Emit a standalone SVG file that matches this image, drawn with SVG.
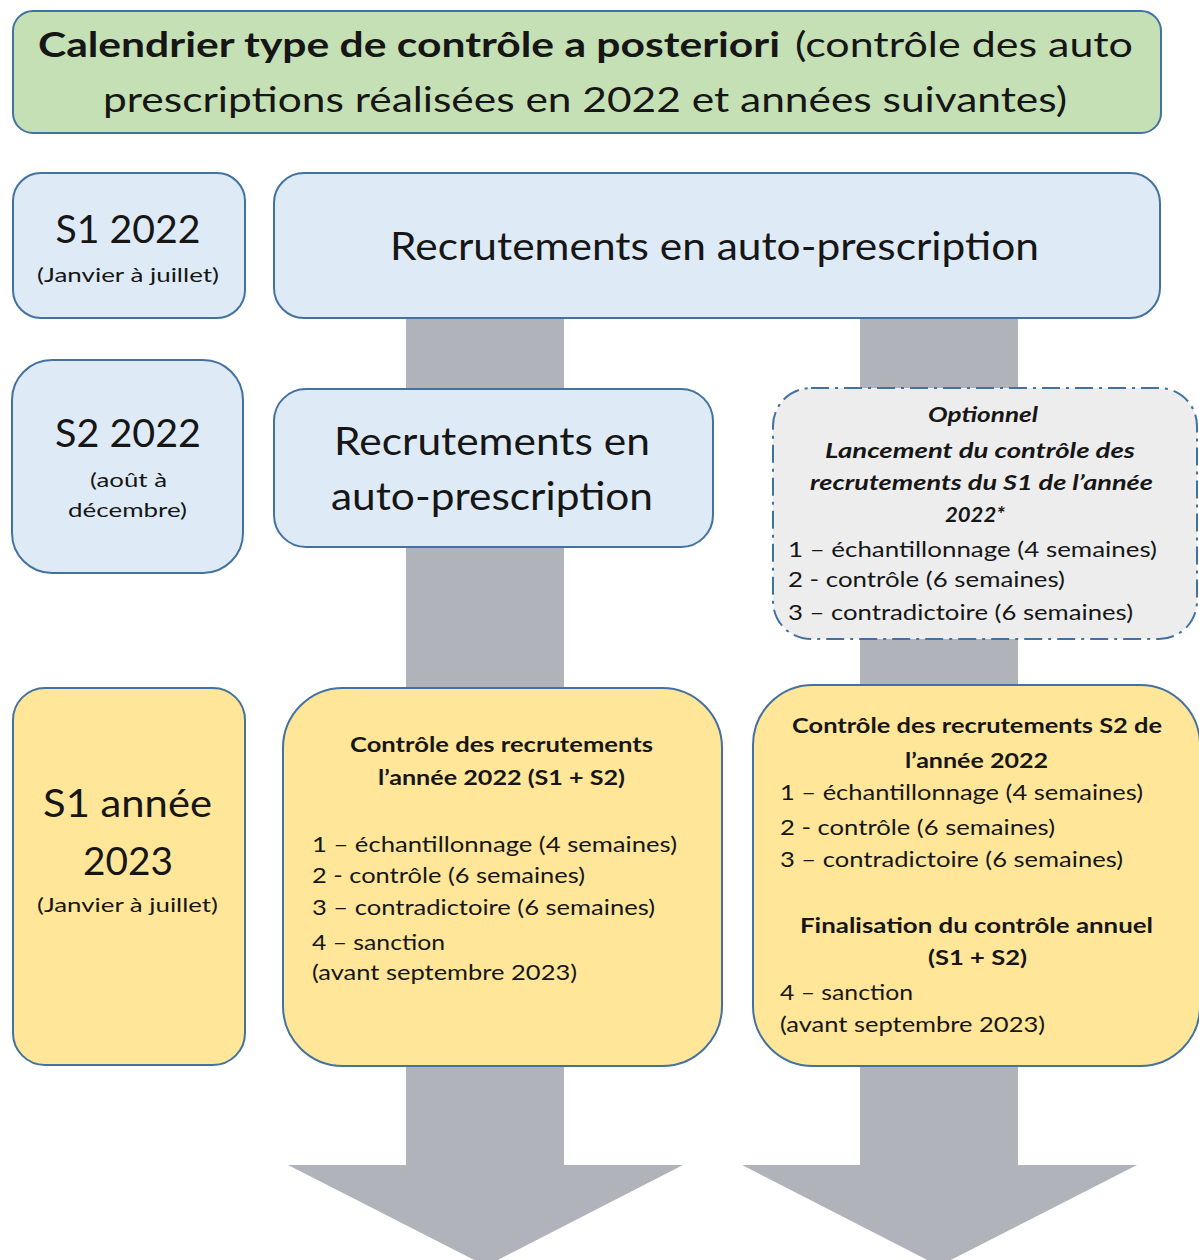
<svg xmlns="http://www.w3.org/2000/svg" width="1199" height="1260" viewBox="0 0 1199 1260">
<style>
  .box{stroke:#4472A0;stroke-width:2}
  .green{fill:#C5E0B4}
  .blue{fill:#DEEBF7}
  .yellow{fill:#FFE699}
  .gray{fill:#EDEDED;stroke:#4472A0;stroke-width:2;stroke-dasharray:18 6 3 6}
  .arrow{fill:#B0B4BA}
  text{font-family:Lato,"Open Sans","Liberation Sans",sans-serif;fill:#161616}
  .c{text-anchor:middle}
  .big{font-size:38px}
  .ttl{font-size:35px}
  .sm{font-size:20px}
  .li{font-size:21px}
  .b{font-weight:bold}
  .bi{font-weight:bold;font-style:italic}
</style>
<rect width="1199" height="1260" fill="#FFFFFF"/>
<g id="connectors">
  <polygon class="arrow" points="406,300 564,300 564,1165 683,1165 486,1266 288,1165 406,1165"/>
  <polygon class="arrow" points="860,300 1018,300 1018,1165 1137,1165 939,1266 742,1165 860,1165"/>
</g>
<g id="title">
  <rect class="box green" x="13" y="11" width="1148" height="122" rx="20"/>
  <text class="ttl" y="57"><tspan class="b" x="38" textLength="742" lengthAdjust="spacingAndGlyphs">Calendrier type de contrôle a posteriori</tspan><tspan x="795" textLength="338" lengthAdjust="spacingAndGlyphs">(contrôle des auto</tspan></text>
  <text class="ttl c" x="585" y="112" textLength="964" lengthAdjust="spacingAndGlyphs">prescriptions réalisées en 2022 et années suivantes)</text>
</g>
<g id="s1-2022">
  <rect class="box blue" x="13" y="173" width="232" height="145" rx="28"/>
  <text class="big c" x="128" y="243" textLength="145" lengthAdjust="spacingAndGlyphs">S1 2022</text>
  <text class="sm c" x="128" y="282" textLength="182" lengthAdjust="spacingAndGlyphs">(Janvier à juillet)</text>
</g>
<g id="recrutements-s1">
  <rect class="box blue" x="274" y="173" width="886" height="145" rx="30"/>
  <text class="big c" x="714.5" y="260" textLength="649" lengthAdjust="spacingAndGlyphs">Recrutements en auto-prescription</text>
</g>
<g id="s2-2022">
  <rect class="box blue" x="12" y="360" width="231" height="213" rx="40"/>
  <text class="big c" x="128" y="447" textLength="146" lengthAdjust="spacingAndGlyphs">S2 2022</text>
  <text class="sm c" x="128.5" y="487" textLength="77" lengthAdjust="spacingAndGlyphs">(août à</text>
  <text class="sm c" x="127.5" y="517" textLength="119" lengthAdjust="spacingAndGlyphs">décembre)</text>
</g>
<g id="recrutements-s2">
  <rect class="box blue" x="274" y="389" width="439" height="158" rx="32"/>
  <text class="big c" x="492" y="455" textLength="316" lengthAdjust="spacingAndGlyphs">Recrutements en</text>
  <text class="big c" x="492" y="510" textLength="322" lengthAdjust="spacingAndGlyphs">auto-prescription</text>
</g>
<g id="optionnel">
  <rect class="gray" x="773" y="388" width="424" height="251" rx="38"/>
  <text class="li bi c" x="983" y="422" textLength="110" lengthAdjust="spacingAndGlyphs">Optionnel</text>
  <text class="li bi c" x="980" y="458" textLength="310" lengthAdjust="spacingAndGlyphs">Lancement du contrôle des</text>
  <text class="li bi c" x="981.5" y="490" textLength="343" lengthAdjust="spacingAndGlyphs">recrutements du S1 de l’année</text>
  <text class="li bi c" x="975" y="522" textLength="60" lengthAdjust="spacingAndGlyphs">2022*</text>
  <text class="li" x="788" y="557" textLength="369" lengthAdjust="spacingAndGlyphs">1 – échantillonnage (4 semaines)</text>
  <text class="li" x="788" y="587" textLength="277" lengthAdjust="spacingAndGlyphs">2 - contrôle (6 semaines)</text>
  <text class="li" x="788" y="620" textLength="345" lengthAdjust="spacingAndGlyphs">3 – contradictoire (6 semaines)</text>
</g>
<g id="s1-2023">
  <rect class="box yellow" x="13" y="688" width="232" height="377" rx="32"/>
  <text class="big c" x="127.5" y="817" textLength="169" lengthAdjust="spacingAndGlyphs">S1 année</text>
  <text class="big c" x="128" y="875" textLength="90" lengthAdjust="spacingAndGlyphs">2023</text>
  <text class="sm c" x="127.5" y="912" textLength="181" lengthAdjust="spacingAndGlyphs">(Janvier à juillet)</text>
</g>
<g id="controle-annuel">
  <rect class="box yellow" x="283" y="688" width="439" height="378" rx="60"/>
  <text class="li b c" x="501.5" y="752" textLength="303" lengthAdjust="spacingAndGlyphs">Contrôle des recrutements</text>
  <text class="li b c" x="501.5" y="785" textLength="247" lengthAdjust="spacingAndGlyphs">l’année 2022 (S1 + S2)</text>
  <text class="li" x="312" y="852" textLength="365" lengthAdjust="spacingAndGlyphs">1 – échantillonnage (4 semaines)</text>
  <text class="li" x="312" y="883" textLength="273" lengthAdjust="spacingAndGlyphs">2 - contrôle (6 semaines)</text>
  <text class="li" x="312" y="915" textLength="343" lengthAdjust="spacingAndGlyphs">3 – contradictoire (6 semaines)</text>
  <text class="li" x="312" y="950" textLength="133" lengthAdjust="spacingAndGlyphs">4 – sanction</text>
  <text class="li" x="312" y="980" textLength="265" lengthAdjust="spacingAndGlyphs">(avant septembre 2023)</text>
</g>
<g id="controle-s2">
  <rect class="box yellow" x="753" y="685" width="447" height="381" rx="60"/>
  <text class="li b c" x="977" y="733" textLength="370" lengthAdjust="spacingAndGlyphs">Contrôle des recrutements S2 de</text>
  <text class="li b c" x="976.5" y="768" textLength="143" lengthAdjust="spacingAndGlyphs">l’année 2022</text>
  <text class="li" x="780" y="800" textLength="363" lengthAdjust="spacingAndGlyphs">1 – échantillonnage (4 semaines)</text>
  <text class="li" x="780" y="835" textLength="275" lengthAdjust="spacingAndGlyphs">2 - contrôle (6 semaines)</text>
  <text class="li" x="780" y="867" textLength="343" lengthAdjust="spacingAndGlyphs">3 – contradictoire (6 semaines)</text>
  <text class="li b c" x="976.5" y="933" textLength="353" lengthAdjust="spacingAndGlyphs">Finalisation du contrôle annuel</text>
  <text class="li b c" x="977.5" y="965" textLength="99" lengthAdjust="spacingAndGlyphs">(S1 + S2)</text>
  <text class="li" x="780" y="1000" textLength="133" lengthAdjust="spacingAndGlyphs">4 – sanction</text>
  <text class="li" x="780" y="1032" textLength="265" lengthAdjust="spacingAndGlyphs">(avant septembre 2023)</text>
</g>
</svg>
